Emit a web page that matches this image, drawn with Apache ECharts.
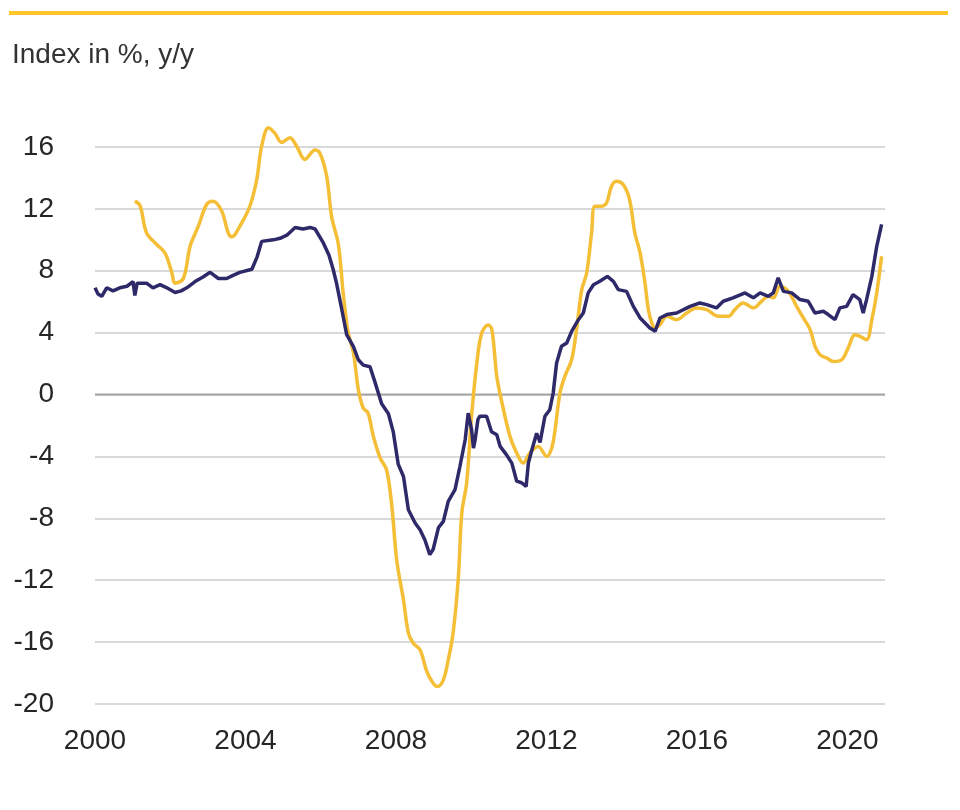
<!DOCTYPE html>
<html>
<head>
<meta charset="utf-8">
<script src="https://cdn.jsdelivr.net/npm/echarts@6/dist/echarts.min.js"></script>
<style>html,body{margin:0;padding:0;background:#fff;}#c{width:960px;height:810px;}</style>
</head>
<body>
<div id="c"></div>
<script>
// Dark series (navy): decimal years and values (%, y/y)
var navyYears = [2000.00,2000.08,2000.18,2000.31,2000.48,2000.66,2000.85,2001.01,2001.06,2001.12,2001.37,2001.54,2001.73,2001.91,2002.13,2002.29,2002.44,2002.66,2002.87,2003.06,2003.28,2003.50,2003.67,2003.85,2004.17,2004.31,2004.43,2004.74,2004.92,2005.10,2005.32,2005.53,2005.72,2005.85,2006.07,2006.22,2006.33,2006.42,2006.56,2006.69,2006.87,2007.00,2007.13,2007.31,2007.44,2007.62,2007.80,2007.93,2008.06,2008.20,2008.33,2008.51,2008.64,2008.77,2008.90,2008.99,2009.13,2009.26,2009.39,2009.57,2009.70,2009.84,2009.92,2010.01,2010.06,2010.10,2010.18,2010.23,2010.41,2010.54,2010.68,2010.77,2010.94,2011.08,2011.21,2011.34,2011.46,2011.52,2011.61,2011.74,2011.83,2011.96,2012.09,2012.18,2012.27,2012.40,2012.54,2012.67,2012.85,2012.98,2013.11,2013.25,2013.42,2013.62,2013.78,2013.91,2014.13,2014.31,2014.49,2014.75,2014.89,2015.02,2015.20,2015.46,2015.82,2016.08,2016.26,2016.52,2016.70,2016.96,2017.28,2017.50,2017.68,2017.90,2018.03,2018.16,2018.30,2018.52,2018.74,2018.96,2019.14,2019.36,2019.49,2019.67,2019.80,2019.98,2020.15,2020.33,2020.42,2020.51,2020.65,2020.78,2020.91];
var navyValues = [6.9,6.5,6.35,6.9,6.7,6.9,7.0,7.3,6.4,7.2,7.2,6.9,7.1,6.9,6.6,6.7,6.9,7.3,7.6,7.9,7.5,7.5,7.7,7.9,8.1,8.9,9.9,10.0,10.1,10.3,10.8,10.7,10.8,10.7,9.8,9.0,8.1,7.2,5.5,3.87,3.1,2.25,1.9,1.8,0.82,-0.6,-1.24,-2.43,-4.5,-5.3,-7.45,-8.3,-8.74,-9.4,-10.35,-10.0,-8.6,-8.2,-6.9,-6.15,-4.65,-2.92,-1.2,-2.27,-3.46,-3.0,-1.6,-1.4,-1.4,-2.4,-2.6,-3.35,-3.9,-4.43,-5.6,-5.7,-5.94,-4.43,-3.6,-2.5,-3.1,-1.4,-0.98,0.1,2.04,3.12,3.33,4.08,4.84,5.27,6.57,7.1,7.32,7.64,7.32,6.78,6.67,5.7,4.95,4.3,4.1,4.95,5.17,5.27,5.7,5.92,5.81,5.6,6.03,6.25,6.57,6.25,6.57,6.35,6.57,7.54,6.67,6.57,6.14,6.03,5.27,5.38,5.17,4.84,5.6,5.7,6.46,6.14,5.27,6.14,7.64,9.58,11.0];

// Yellow series: decimal years and values (%, y/y)
var goldYears = [2001.06,2001.20,2001.37,2001.64,2001.86,2002.04,2002.13,2002.35,2002.53,2002.75,2002.97,2003.14,2003.37,2003.54,2003.63,2003.90,2004.12,2004.30,2004.43,2004.61,2004.78,2004.96,2005.18,2005.36,2005.58,2005.85,2005.98,2006.16,2006.29,2006.47,2006.60,2006.73,2006.87,2007.00,2007.13,2007.26,2007.40,2007.58,2007.75,2007.89,2008.02,2008.20,2008.33,2008.46,2008.64,2008.82,2008.99,2009.10,2009.26,2009.39,2009.52,2009.66,2009.75,2009.88,2010.01,2010.15,2010.28,2010.45,2010.55,2010.68,2010.81,2011.03,2011.21,2011.38,2011.56,2011.78,2012.01,2012.14,2012.23,2012.36,2012.49,2012.67,2012.80,2012.94,2013.07,2013.20,2013.29,2013.47,2013.60,2013.73,2013.86,2014.04,2014.21,2014.35,2014.49,2014.62,2014.71,2014.80,2014.89,2015.02,2015.20,2015.46,2015.73,2015.99,2016.26,2016.57,2016.84,2017.01,2017.23,2017.50,2017.72,2017.90,2018.03,2018.21,2018.43,2018.65,2018.83,2019.01,2019.14,2019.27,2019.45,2019.63,2019.85,2020.02,2020.20,2020.34,2020.51,2020.65,2020.78,2020.91];
var goldValues = [12.5,12.2,10.45,9.7,9.15,7.9,7.2,7.5,9.6,10.9,12.3,12.5,11.85,10.45,10.2,11.1,12.2,13.9,16.05,17.25,16.9,16.3,16.6,16.05,15.2,15.8,15.6,14.1,11.5,9.7,6.5,4.0,2.7,0.32,-0.87,-1.2,-2.7,-4.1,-4.86,-7.2,-10.7,-13.27,-15.4,-16.07,-16.5,-17.9,-18.66,-18.87,-18.44,-17.15,-15.4,-11.76,-7.66,-5.7,-1.4,2.04,3.98,4.5,4.2,1.18,-0.44,-2.7,-3.78,-4.43,-3.78,-3.35,-4.0,-3.46,-2.27,0.1,1.18,2.25,4.2,6.78,7.86,10.45,12.17,12.17,12.39,13.46,13.79,13.57,12.6,10.45,9.16,7.2,5.49,4.63,4.3,4.52,5.06,4.84,5.27,5.6,5.49,5.06,5.06,5.49,5.92,5.6,6.03,6.35,6.25,7.0,6.67,5.7,4.95,4.2,3.12,2.58,2.36,2.14,2.25,3.0,3.87,3.76,3.54,4.84,6.57,8.94];

var yTicks = {min: -20, max: 16, interval: 4};
var xTicks = {min: 2000, max: 2021, interval: 4};
var titleText = 'Index in %, y/y';

function pairs(xs, ys) { return xs.map(function (x, i) { return [x, ys[i]]; }); }

var FONT = "'Liberation Sans', Arial, sans-serif";
var chart = echarts.init(document.getElementById('c'), null, {renderer: 'canvas'});
chart.setOption({
  animation: false,
  backgroundColor: '#ffffff',
  title: {
    text: titleText, left: 7, top: 36,
    textStyle: {fontFamily: FONT, fontSize: 28, fontWeight: 'normal', color: '#333333'}
  },
  graphic: [{
    type: 'line', shape: {x1: 9, y1: 13, x2: 948, y2: 13},
    style: {stroke: '#FFC629', lineWidth: 4}, silent: true
  }],
  grid: {left: 95, right: 75, top: 147, bottom: 106, containLabel: false},
  xAxis: {
    type: 'value', min: xTicks.min, max: xTicks.max, interval: xTicks.interval,
    axisLine: {show: false}, axisTick: {show: false}, splitLine: {show: false},
    axisLabel: {
      showMaxLabel: false, margin: 23,
      fontFamily: FONT, fontSize: 28, color: '#262626',
      formatter: function (v) { return String(v); }
    }
  },
  yAxis: {
    type: 'value', min: yTicks.min, max: yTicks.max, interval: yTicks.interval,
    axisLine: {show: false}, axisTick: {show: false},
    splitLine: {lineStyle: {color: '#d9d9d9', width: 2}},
    axisLabel: {margin: 41, fontFamily: FONT, fontSize: 28, color: '#262626'}
  },
  series: [
    {
      type: 'line', name: 'zero', data: [[xTicks.min, 0], [xTicks.max, 0]],
      symbol: 'none', silent: true, z: 1,
      lineStyle: {color: '#a6a6a6', width: 2}
    },
    {
      type: 'line', name: 'gold', data: pairs(goldYears, goldValues),
      symbol: 'none', smooth: 0.35, z: 2, clip: false,
      lineStyle: {color: '#F4BE36', width: 3.5}
    },
    {
      type: 'line', name: 'navy', data: pairs(navyYears, navyValues),
      symbol: 'none', smooth: false, z: 3, clip: false,
      lineStyle: {color: '#2E2968', width: 3.5}
    }
  ]
});
</script>
</body>
</html>
